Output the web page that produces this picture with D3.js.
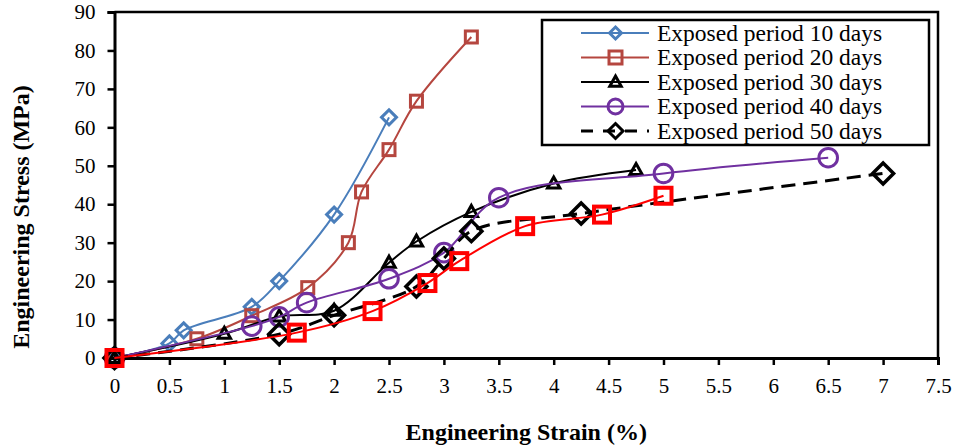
<!DOCTYPE html>
<html lang="en">
  <head>
    <meta charset="UTF-8" />
    <title>Engineering stress vs strain</title>
    <style>
      body { margin: 0; background: #fff; }
      svg text { font-family: "Liberation Serif", "Times New Roman", Times, serif; fill: #000; }
    </style>
  </head>
  <body>
    <div class="chart"></div>
    <script src="https://d3js.org/d3.v7.min.js"></script>
    <script>

    // data (strain %, stress MPa)
    var days10X = [0, 0.5, 0.63, 1.25, 1.5, 2, 2.5];
    var days10Y = [0, 3.8, 7.2, 13.3, 20, 37.3, 62.6];

    var days20X = [0, 0.75, 1.25, 1.76, 2.13, 2.25, 2.5, 2.75, 3.25];
    var days20Y = [0, 5, 11, 18.3, 30, 43.2, 54.2, 66.8, 83.5];

    var days30X = [0, 1, 1.5, 2, 2.5, 2.75, 3.25, 4, 4.75];
    var days30Y = [0, 6.3, 10.8, 12.3, 24.8, 30.3, 38, 45.4, 48.9];

    var days40X = [0, 1.25, 1.5, 1.75, 2.5, 3, 3.5, 5, 6.5];
    var days40Y = [0, 8.3, 10.7, 14.4, 20.6, 27.4, 41.7, 48, 52.1];

    var days50X = [0, 1.5, 2, 2.75, 3, 3.25, 4.25, 7];
    var days50Y = [0, 6.2, 11.1, 18.6, 25.9, 33, 37.6, 48];

    var otherX = [0, 1.66, 2.35, 2.85, 3.14, 3.74, 4.44, 5];
    var otherY = [0, 6.6, 12.2, 19.5, 25.2, 34.3, 37.3, 42.2];

    var legendLabels = ["Exposed period 10 days", "Exposed period 20 days", "Exposed period 30 days",
                        "Exposed period 40 days", "Exposed period 50 days"];

    var xTicks = d3.range(0, 7.51, 0.5);
    var yTicks = d3.range(0, 91, 10);

    var series = [
      { xs: days10X, ys: days10Y, color: "#4A7EBB", width: 2, dash: null, marker: "diamond", size: 7.5, sw: 3, legend: 0, lsize: 6 },
      { xs: days20X, ys: days20Y, color: "#B5463F", width: 2, dash: null, marker: "square", size: 6, sw: 3, legend: 1, lsize: 6.5 },
      { xs: days30X, ys: days30Y, color: "#000", width: 2, dash: null, marker: "triangle", size: 6.5, sw: 3, legend: 2, lsize: 6 },
      { xs: days40X, ys: days40Y, color: "#7030A0", width: 2, dash: null, marker: "circle", size: 9.3, sw: 3, legend: 3, lsize: 7.5 },
      { xs: days50X, ys: days50Y, color: "#000", width: 3, dash: "14,8", marker: "diamond", size: 10.5, sw: 3.5, legend: 4, lsize: 7.5 },
      { xs: otherX, ys: otherY, color: "#FF0000", width: 2, dash: null, marker: "square", size: 8, sw: 4, legend: -1 }
    ];

    var w = 957, h = 448;
    var margin = { left: 114.5, right: 19, top: 12, bottom: 90 };
    var serif = "'Liberation Serif', 'Times New Roman', Times, serif";

    var svg = d3.select(".chart").append("svg")
      .attr("width", w)
      .attr("height", h);

    var x = d3.scaleLinear().domain([0, 7.5]).range([margin.left, w - margin.right]);
    var y = d3.scaleLinear().domain([0, 90]).range([h - margin.bottom, margin.top]);

    // frame (top + right)
    svg.append("path")
      .attr("d", "M" + x(0) + "," + y(90) + "H" + x(7.5) + "V" + y(0))
      .attr("fill", "none")
      .attr("stroke", "#000")
      .attr("stroke-width", 2.5);

    var xAxis = svg.append("g")
      .attr("transform", "translate(0," + y(0) + ")")
      .call(d3.axisBottom(x).tickValues(xTicks).tickSize(7).tickPadding(13).tickFormat(d3.format("~g")));
    var yAxis = svg.append("g")
      .attr("transform", "translate(" + x(0) + ",0)")
      .call(d3.axisLeft(y).tickValues(yTicks).tickSize(7).tickPadding(12));

    [xAxis, yAxis].forEach(function(a) {
      a.attr("font-family", serif);
      a.select(".domain").attr("stroke-width", 3);
      a.selectAll(".tick line").attr("stroke-width", 2.5);
      a.selectAll("text").attr("font-size", "21px").style("font-family", serif);
    });

    svg.append("text")
      .attr("x", (x(0) + x(7.5)) / 2)
      .attr("y", 440)
      .attr("text-anchor", "middle")
      .attr("font-weight", "bold")
      .attr("font-size", "24px")
      .style("font-family", serif)
      .text("Engineering Strain (%)");

    svg.append("text")
      .attr("transform", "translate(29," + 217 + ") rotate(-90)")
      .attr("text-anchor", "middle")
      .attr("font-weight", "bold")
      .attr("font-size", "24px")
      .style("font-family", serif)
      .text("Engineering Stress (MPa)");

    function drawMarker(g, type, cx, cy, r, color, sw) {
      var m;
      if (type === "circle") {
        m = g.append("circle").attr("cx", cx).attr("cy", cy).attr("r", r);
      } else if (type === "square") {
        m = g.append("rect").attr("x", cx - r).attr("y", cy - r).attr("width", 2 * r).attr("height", 2 * r);
      } else if (type === "diamond") {
        m = g.append("path").attr("d", "M" + cx + "," + (cy - r) + "L" + (cx + r) + "," + cy +
          "L" + cx + "," + (cy + r) + "L" + (cx - r) + "," + cy + "Z");
      } else {
        m = g.append("path").attr("d", "M" + cx + "," + (cy - r) + "L" + (cx + r * 0.95) + "," + (cy + r * 0.7) +
          "L" + (cx - r * 0.95) + "," + (cy + r * 0.7) + "Z");
      }
      m.attr("fill", "none").attr("stroke", color).attr("stroke-width", sw).attr("stroke-linejoin", "miter");
    }

    var line = d3.line()
      .x(function(d) { return x(d[0]); })
      .y(function(d) { return y(d[1]); })
      .curve(d3.curveCatmullRom.alpha(0.5));

    series.forEach(function(s) {
      var pts = s.xs.map(function(v, i) { return [v, s.ys[i]]; });
      var g = svg.append("g");
      g.append("path")
        .datum(pts)
        .attr("d", line)
        .attr("fill", "none")
        .attr("stroke", s.color)
        .attr("stroke-width", s.width)
        .attr("stroke-dasharray", s.dash);
      pts.forEach(function(p) {
        drawMarker(g, s.marker, x(p[0]), y(p[1]), s.size, s.color, s.sw);
      });
    });

    // legend
    var legend = svg.append("g");
    legend.append("rect")
      .attr("x", 542).attr("y", 20)
      .attr("width", 387).attr("height", 125)
      .attr("fill", "#fff")
      .attr("stroke", "#000")
      .attr("stroke-width", 2.5);

    series.filter(function(s) { return s.legend >= 0; }).forEach(function(s) {
      var ly = 33 + s.legend * 24.5;
      legend.append("line")
        .attr("x1", 581).attr("x2", 649)
        .attr("y1", ly).attr("y2", ly)
        .attr("stroke", s.color)
        .attr("stroke-width", s.width)
        .attr("stroke-dasharray", s.dash ? "12,10" : null);
      drawMarker(legend, s.marker, 615.5, ly, s.lsize, s.color, 3);
      legend.append("text")
        .attr("x", 657)
        .attr("y", ly + 7.5)
        .attr("font-size", "23.5px")
        .style("font-family", serif)
        .text(legendLabels[s.legend]);
    });

    </script>
  </body>
</html>
